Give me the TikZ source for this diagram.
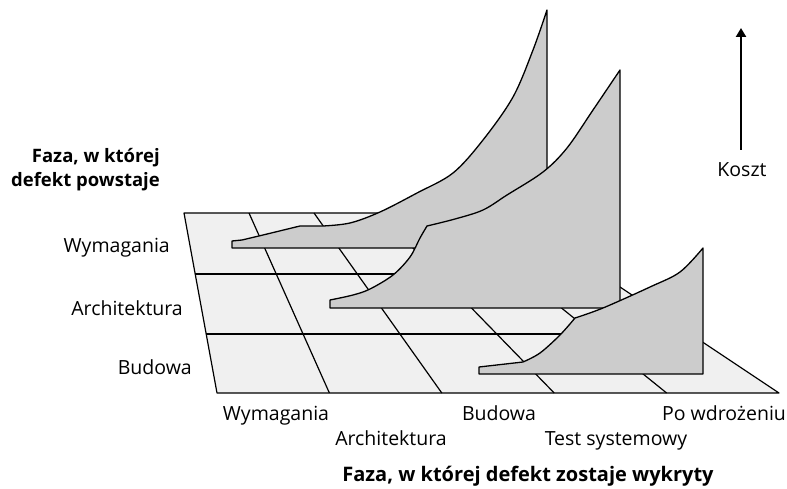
\documentclass[tikz,border=0pt]{standalone}
\usepackage{fontspec}
\setmainfont{Open Sans}
\usetikzlibrary{arrows.meta}
\definecolor{floorfill}{HTML}{F0F0F0}
\definecolor{curvefill}{HTML}{CCCCCC}
\tikzset{
  lbl/.style={font=\fontsize{19.5}{22}\selectfont, inner sep=0pt},
  ttl/.style={font=\bfseries\fontsize{18.5}{22}\selectfont, inner sep=0pt},
  bttl/.style={font=\bfseries\fontsize{20}{22}\selectfont, inner sep=0pt},
  floorline/.style={line width=1.2pt, line join=round},
  curveshape/.style={fill=curvefill, draw=black, line width=1.3pt, line join=round},
  costarrow/.style={line width=2.4pt, -{Triangle[length=9pt,width=10pt]}}
}
\begin{document}
\begin{tikzpicture}[x=1pt,y=-1pt]
\useasboundingbox (0,0) rectangle (787,489);
% floor
\coordinate (f1) at (184,213);
\coordinate (f2) at (509,213);
\coordinate (f3) at (779,393);
\coordinate (f4) at (217,393);
\fill[floorfill] (f1) -- (f2) -- (f3) -- (f4) -- cycle;
\coordinate (h1l) at (195,274); \coordinate (h1r) at (600,274);
\coordinate (h2l) at (206,334); \coordinate (h2r) at (690,334);
\draw[floorline] (h1l) -- (h1r);
\draw[floorline] (h2l) -- (h2r);
\foreach \k in {1,2,3,4}{
  \coordinate (vt\k) at ({184+\k*65},213);
  \coordinate (vb\k) at ({217+\k*112.4},393);
  \draw[floorline] (vt\k) -- (vb\k);
}
\draw[floorline] (f1) -- (f2) -- (f3) -- (f4) -- cycle;
% curve 1 (Wymagania)
\draw[curveshape] (232,248) -- (232,241) -- (242,240)
  -- plot[smooth, tension=0.5] coordinates {(242,240) (263,235) (300,226)}
  -- plot[smooth, tension=0.55] coordinates {(323,226) (350,223) (380,212) (417,193) (453,173) (483,140) (513,97) (533,50) (547,10)}
  -- (547,248) -- cycle;
% curve 2 (Architektura)
\draw[curveshape] (330,308) -- (330,300)
  -- plot[smooth, tension=0.55] coordinates {(330,300) (353,295) (370,289) (393,275) (410,257) (420,238) (427,226)}
  -- plot[smooth, tension=0.55] coordinates {(427,226) (455,219) (483,210) (507,195) (543,172) (567,148) (593,110) (620,70)}
  -- (620,308) -- cycle;
% curve 3 (Budowa)
\draw[curveshape] (479,374) -- (479,367) -- (523,362)
  -- plot[smooth, tension=0.55] coordinates {(523,362) (540,353) (560,335) (575,318)}
  -- plot[smooth, tension=0.55] coordinates {(575,318) (603,308) (650,287) (680,272) (703,248)}
  -- (703,374) -- cycle;
% left labels
\node[ttl, anchor=base east] (rowtitlea) at (160,163) {Faza, w której};
\node[ttl, anchor=base east] (rowtitleb) at (160,187) {defekt powstaje};
\node[lbl, anchor=base east] (r1) at (170,252) {Wymagania};
\node[lbl, anchor=base east] (r2) at (183,315) {Architektura};
\node[lbl, anchor=base east] (r3) at (192,374) {Budowa};
% bottom labels
\node[lbl, anchor=base] (c1) at (276,420) {Wymagania};
\node[lbl, anchor=base] (c2) at (391,445) {Architektura};
\node[lbl, anchor=base] (c3) at (499,420) {Budowa};
\node[lbl, anchor=base] (c4) at (616,445) {Test systemowy};
\node[lbl, anchor=base] (c5) at (724,420) {Po wdrożeniu};
\node[bttl, anchor=base] (coltitle) at (528,481) {Faza, w której defekt zostaje wykryty};
% cost arrow
\node[lbl, anchor=base] (koszt) at (742,177) {Koszt};
\coordinate (ka) at (741,150);
\coordinate (kb) at (741,28);
\draw[costarrow] (ka) -- (kb);
\end{tikzpicture}
\end{document}
